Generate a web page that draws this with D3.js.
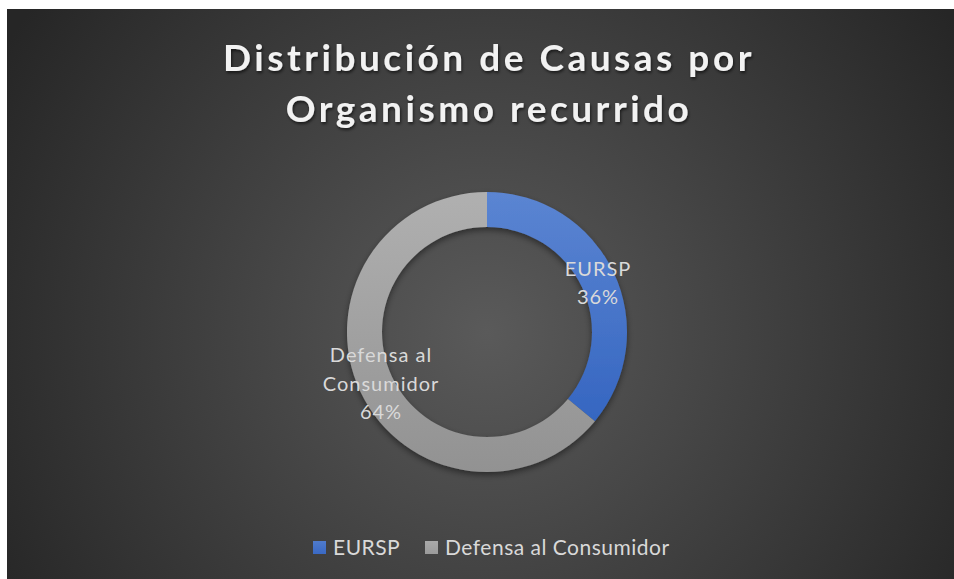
<!DOCTYPE html>
<html>
<head>
<meta charset="utf-8">
<script src="https://cdn.jsdelivr.net/npm/d3@7"></script>
<style>
  html, body { margin: 0; padding: 0; background: #ffffff; }
  svg { display: block; }
</style>
</head>
<body>
<script>
// data
const categories = ['EURSP', 'Defensa al Consumidor'];
const values = [36, 64];
const labelLines = [['EURSP'], ['Defensa al', 'Consumidor']];
const titleLines = ['Distribución de Causas por', 'Organismo recurrido'];

const width = 954;
const height = 579;
const cx = 487;
const cy = 332;
const outerR = 140;
const innerR = 105;

const svg = d3.select('body')
  .append('svg')
  .attr('width', width)
  .attr('height', height);

const defs = svg.append('defs');

// background radial gradient
const bg = defs.append('radialGradient')
  .attr('id', 'bgGrad')
  .attr('gradientUnits', 'userSpaceOnUse')
  .attr('cx', cx).attr('cy', cy).attr('r', 560);
bg.append('stop').attr('offset', '0%').attr('stop-color', '#5a5a5a');
bg.append('stop').attr('offset', '100%').attr('stop-color', '#262626');

// slice gradients (in the donut group's coordinates)
const sliceGrads = [['#5b85d2', '#2d5fbd'], ['#b0b0b0', '#929292']];
sliceGrads.forEach((g, i) => {
  const lg = defs.append('linearGradient')
    .attr('id', `slice${i}`)
    .attr('gradientUnits', 'userSpaceOnUse')
    .attr('x1', 0).attr('y1', -outerR)
    .attr('x2', 0).attr('y2', outerR);
  lg.append('stop').attr('offset', '0%').attr('stop-color', g[0]);
  lg.append('stop').attr('offset', '100%').attr('stop-color', g[1]);
});
// fills for legend swatches
const legendGrads = [['#4f7bcc', '#3a69c4'], ['#a9a9a9', '#9b9b9b']];
legendGrads.forEach((g, i) => {
  const lg = defs.append('linearGradient')
    .attr('id', `swatch${i}`)
    .attr('x1', 0).attr('y1', 0)
    .attr('x2', 0).attr('y2', 1);
  lg.append('stop').attr('offset', '0%').attr('stop-color', g[0]);
  lg.append('stop').attr('offset', '100%').attr('stop-color', g[1]);
});

const shadow = defs.append('filter')
  .attr('id', 'shadow')
  .attr('x', '-20%').attr('y', '-20%')
  .attr('width', '140%').attr('height', '140%');
shadow.append('feDropShadow')
  .attr('dx', 0).attr('dy', 3)
  .attr('stdDeviation', 3)
  .attr('flood-color', '#000')
  .attr('flood-opacity', 0.45);

const textShadow = defs.append('filter').attr('id', 'textShadow');
textShadow.append('feDropShadow')
  .attr('dx', 1).attr('dy', 2)
  .attr('stdDeviation', 1.5)
  .attr('flood-color', '#000')
  .attr('flood-opacity', 0.6);

svg.append('rect')
  .attr('x', 7).attr('y', 9)
  .attr('width', width - 7).attr('height', height - 9)
  .attr('fill', 'url(#bgGrad)');

// title
svg.append('g')
  .selectAll('text')
  .data(titleLines)
  .join('text')
  .attr('x', cx + 2)
  .attr('y', (d, i) => 71 + i * 51)
  .attr('text-anchor', 'middle')
  .attr('font-family', 'Lato, sans-serif')
  .attr('font-weight', 'bold')
  .attr('font-size', 37)
  .attr('letter-spacing', 3.5)
  .attr('fill', '#f2f2f2')
  .attr('filter', 'url(#textShadow)')
  .text((d) => d);

// donut
const pie = d3.pie().sort(null).value((d) => d);
const arc = d3.arc().innerRadius(innerR).outerRadius(outerR);
const arcs = pie(values);

const chart = svg.append('g').attr('transform', `translate(${cx}, ${cy})`);
chart.append('g')
  .attr('filter', 'url(#shadow)')
  .selectAll('path')
  .data(arcs)
  .join('path')
  .attr('d', arc)
  .attr('fill', (d, i) => `url(#slice${i})`);

// data labels: position is the baseline of the last line
const labelPos = [[111, -28], [-106, 87]];
const lineH = 28.5;
const total = d3.sum(values);
arcs.forEach((a, i) => {
  const lines = labelLines[i].concat([`${Math.round((values[i] / total) * 100)}%`]);
  chart.append('text')
    .attr('text-anchor', 'middle')
    .attr('font-family', 'Lato, sans-serif')
    .attr('font-size', 20)
    .attr('letter-spacing', 1)
    .attr('fill', '#d9d9d9')
    .selectAll('tspan')
    .data(lines)
    .join('tspan')
    .attr('x', labelPos[i][0])
    .attr('y', (d, j) => labelPos[i][1] + (j - lines.length + 1) * lineH)
    .text((d) => d);
});

// legend
const legend = svg.append('g').attr('transform', 'translate(0, 555)');
const legendX = [313, 425];
categories.forEach((c, i) => {
  legend.append('rect')
    .attr('x', legendX[i]).attr('y', -14)
    .attr('width', 13).attr('height', 13)
    .attr('fill', `url(#swatch${i})`);
  legend.append('text')
    .attr('x', legendX[i] + 20)
    .attr('y', 0)
    .attr('font-family', 'Lato, sans-serif')
    .attr('font-size', 21)
    .attr('letter-spacing', 0.5)
    .attr('fill', '#d9d9d9')
    .text(c);
});
</script>
</body>
</html>
